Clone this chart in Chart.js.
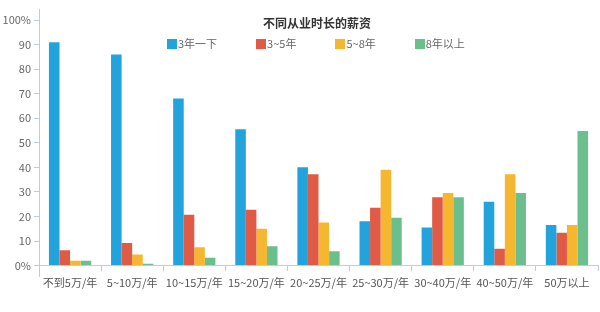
<!DOCTYPE html>
<html>
<head>
<meta charset="utf-8">
<script src="https://cdn.jsdelivr.net/npm/chart.js@4/dist/chart.umd.min.js"></script>
<style>
  html, body { margin: 0; padding: 0; background: #fff; }
  #wrap { position: relative; width: 600px; height: 312px; font-family: "Noto Sans CJK SC", sans-serif; }
  #c { position: absolute; left: 0; top: 0; }
  #title { position: absolute; left: 0; width: 634px; top: 14px; text-align: center; font-size: 12px; font-weight: bold; color: #333; line-height: 18px; }
  #legend { position: absolute; left: 167px; top: 36px; display: flex; gap: 39px; font-size: 11px; color: #666; line-height: 15px; }
  .item { display: flex; align-items: center; }
  .box { width: 10px; height: 10px; margin-right: 1px; }
</style>
</head>
<body>
<div id="wrap">
  <canvas id="c" width="600" height="312"></canvas>
  <div id="title"></div>
  <div id="legend"></div>
</div>
<script>
const chartTitle = "不同从业时长的薪资";
const categories = ["不到5万/年", "5~10万/年", "10~15万/年", "15~20万/年", "20~25万/年", "25~30万/年", "30~40万/年", "40~50万/年", "50万以上"];
const seriesNames = ["3年一下", "3~5年", "5~8年", "8年以上"];
const seriesColors = ["#22a3db", "#e05b46", "#f5b730", "#6bbf8d"];
const under3 = [91, 86, 68, 55.5, 40, 18, 15.5, 26, 16.5];
const from3to5 = [6.2, 9.2, 20.7, 22.7, 37.2, 23.5, 27.8, 6.8, 13.4];
const from5to8 = [2, 4.5, 7.5, 15, 17.5, 39, 29.6, 37.2, 16.5];
const over8 = [2, 0.7, 3.2, 7.9, 5.8, 19.5, 27.8, 29.6, 54.8];
const yTicks = [0, 10, 20, 30, 40, 50, 60, 70, 80, 90, 100];

const seriesValues = [under3, from3to5, from5to8, over8];
const axisColor = "#bccfdb";

document.getElementById("title").textContent = chartTitle;
const leg = document.getElementById("legend");
seriesNames.forEach((n, i) => {
  const it = document.createElement("div"); it.className = "item";
  const b = document.createElement("div"); b.className = "box"; b.style.background = seriesColors[i];
  const t = document.createElement("span"); t.textContent = n;
  it.appendChild(b); it.appendChild(t); leg.appendChild(it);
});

Chart.defaults.font.family = '"Noto Sans CJK SC", sans-serif';

new Chart(document.getElementById("c"), {
  type: "bar",
  data: {
    labels: categories,
    datasets: seriesNames.map((n, i) => ({
      label: n,
      data: seriesValues[i],
      backgroundColor: seriesColors[i],
      borderWidth: 0,
      categoryPercentage: 0.68,
      barPercentage: 1
    }))
  },
  options: {
    responsive: false,
    animation: false,
    devicePixelRatio: 1,
    layout: { padding: { top: 8, right: 2, left: 0, bottom: 36 } },
    plugins: { legend: { display: false }, title: { display: false }, tooltip: { enabled: false } },
    scales: {
      y: {
        min: -4.25,
        max: 104.25,
        afterBuildTicks: (s) => { s.ticks = yTicks.map(v => ({ value: v })); },
        afterFit: (s) => { s.width = 39; },
        grid: { drawOnChartArea: false, drawTicks: true, tickLength: 5, color: axisColor },
        border: { color: axisColor },
        ticks: {
          padding: 3,
          color: "#666",
          font: { size: 11 },
          callback: (v) => v === 0 ? "0%" : (v === 100 ? "100%" : v)
        }
      },
      x: {
        position: { y: 0 },
        offset: true,
        afterFit: (s) => { s.height = 36; },
        grid: { offset: true, drawOnChartArea: false, drawTicks: true, tickLength: 5, color: axisColor },
        border: { color: axisColor },
        ticks: { padding: 6, color: "#555", font: { size: 11 }, maxRotation: 0, autoSkip: false }
      }
    }
  }
});
</script>
</body>
</html>
